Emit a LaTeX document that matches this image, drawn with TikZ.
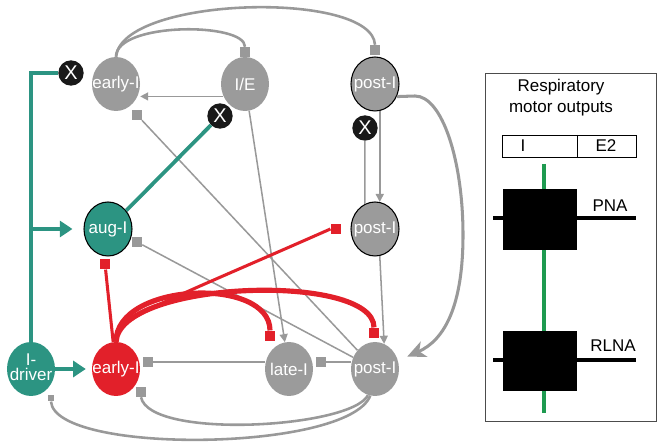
\documentclass[tikz,border=0pt]{standalone}
\usepackage{fontspec}
\setmainfont{Liberation Sans}
\usetikzlibrary{shapes.geometric,arrows.meta}

\definecolor{cellgray}{HTML}{9B9B9B}
\definecolor{cellred}{HTML}{E2202A}
\definecolor{cellteal}{HTML}{2C9482}
\definecolor{outgreen}{HTML}{1E9A50}
\definecolor{linegray}{HTML}{999999}

\newcommand{\ctext}[1]{\makebox[0pt]{#1}}

\tikzset{
    cell/.style={ellipse, minimum width=14.4mm, minimum height=16.2mm, inner sep=0pt,
        text=white, font=\fontsize{14.5}{16}\selectfont},
    gcell/.style={cell, fill=cellgray},
    gcellb/.style={cell, fill=cellgray, draw=black, line width=0.9pt},
    tcell/.style={cell, fill=cellteal},
    tcellb/.style={cell, fill=cellteal, draw=black, line width=0.9pt},
    rcell/.style={cell, fill=cellred},
    xmark/.style={circle, fill=black!90, minimum size=7.6mm, inner sep=0pt,
        text=white, font=\fontsize{17}{17}\selectfont},
    gsq/.style={rectangle, fill=linegray, minimum size=3mm, inner sep=0pt},
    rsq/.style={rectangle, fill=cellred, minimum size=3.2mm, inner sep=0pt},
    gline/.style={draw=linegray, line width=1.3pt},
    garr/.style={gline, -{Triangle[length=2.4mm,width=2.4mm]}},
    garc/.style={draw=linegray, line width=2.2pt},
    gbig/.style={draw=linegray, line width=2.6pt, -{Stealth[length=5.5mm,width=5mm,inset=1.6mm]}},
    tline/.style={draw=cellteal, line width=3.2pt},
    tarr/.style={tline, -{Triangle[length=3.8mm,width=4.8mm]}},
    rline/.style={draw=cellred, line width=2.6pt},
    rthick/.style={draw=cellred, line width=4.4pt},
    outtext/.style={font=\fontsize{14.5}{18}\selectfont, align=center, inner sep=0pt}
}

\begin{document}
\begin{tikzpicture}[x=0.3mm, y=-0.3mm]
    \useasboundingbox (0,0) rectangle (662,448);

    \node [gcell] (eI1) at (116,84) {\ctext{early-I}};
    \node [gcell] (ie) at (245,84) {\ctext{I/E}};
    \node [gcellb] (pI1) at (375,84) {\ctext{post-I}};
    \node [tcellb] (aug) at (108,229) {\ctext{aug-I}};
    \node [gcellb] (pI2) at (375,229) {\ctext{post-I}};
    \node [tcell] (drv) at (31,369) {\ctext{\begin{tabular}{@{}c@{}}I-\\[-3pt]driver\end{tabular}}};
    \node [rcell] (eI2) at (116,369) {\ctext{early-I}};
    \node [gcell] (late) at (289,369) {\ctext{late-I}};
    \node [gcell] (pI3) at (375,369) {\ctext{post-I}};

    \node [xmark] (x1) at (71,73) {X};
    \node [xmark] (x2) at (220,116) {X};
    \node [xmark] (x3) at (365,128) {X};

    \node [gsq] (sqIE) at (245,52) {};
    \node [gsq] (sqPt) at (375,50) {};
    \node [gsq] (sqEa) at (137,115) {};
    \node [gsq] (sqAug) at (137,242) {};
    \node [gsq] (sqE2) at (148,362) {};
    \node [gsq] (sqL2) at (321,362) {};
    \node [gsq] (sqE3) at (141,392) {};
    \node [gsq, minimum size=2mm] (sqD) at (51,398) {};
    \node [rsq] (sqAugR) at (105,264) {};
    \node [rsq] (sqPm) at (336,229) {};
    \node [rsq] (sqLt) at (270,336) {};
    \node [rsq] (sqPb) at (374,333) {};

    \draw [garc] (eI1.north) .. controls (116,22) and (245,22) .. (sqIE.north);
    \draw [garc] (eI1.north) .. controls (122,-4) and (372,-10) .. (sqPt.north);
    \draw [garr] (ie.210) -- (ie.210 -| eI1.east);
    \draw [gline] (pI3) -- (sqEa);
    \draw [gline] (pI3) -- (sqAug);
    \draw [garr] (ie) -- (late);
    \draw [garr] (pI1.-80) -- (pI2.80);
    \draw [gline] (x3) -- (pI2.112);
    \draw [garr] (pI2.-80) -- (pI3.70);
    \draw [gline] (late.west |- sqE2) -- (sqE2);
    \draw [gline] (pI3.west |- sqL2) -- (sqL2);
    \draw [garc] (pI3.-105) .. controls (352,428) and (150,440) .. (sqE3.south);
    \draw [garc] (pI3.-100) .. controls (348,452) and (55,455) .. (sqD.south);
    \draw [gbig, shorten >=3mm] (pI1.-30) -- (415,96) .. controls (442,96) and (463,160) .. (463,235)
        .. controls (463,305) and (445,340) .. (pI3.20);

    \draw [tline] (drv.north) |- (x1);
    \draw [tarr, shorten >=3.3mm] (drv.north |- aug) -- (aug);
    \draw [tarr, shorten >=1.8mm] (drv) -- (eI2);
    \draw [tline] (aug) -- (x2);

    \draw [rline] (eI2) -- (sqAugR);
    \draw [rline] (eI2.north) .. controls (117,318) and (140,313) .. (sqPm.west);
    \draw [rthick] (eI2.north) .. controls (116,282) and (270,276) .. (sqLt.north);
    \draw [rthick] (eI2.north) .. controls (120,280) and (374,272) .. (sqPb.north);

    \draw [draw=black!70, line width=0.7pt] (485,73) rectangle (656,421);
    \node [outtext] (title) at (561,98) {Respiratory\\motor outputs};
    \draw [line width=0.7pt] (502,135) rectangle (636,157);
    \draw [line width=0.7pt] (577,135) -- (577,157);
    \node [outtext] (phI) at (523,146) {I};
    \node [outtext] (phE) at (606,146) {E2};
    \draw [draw=outgreen, line width=2.8pt] (544,164) -- (544,413);
    \draw [line width=2.8pt] (493,218) -- (636,218);
    \draw [line width=2.8pt] (493,360) -- (636,360);
    \fill (503,189) rectangle (577,250);
    \fill (503,331) rectangle (577,391);
    \node [outtext] (pna) at (610,206) {PNA};
    \node [outtext] (rlna) at (613,346) {RLNA};
\end{tikzpicture}
\end{document}
